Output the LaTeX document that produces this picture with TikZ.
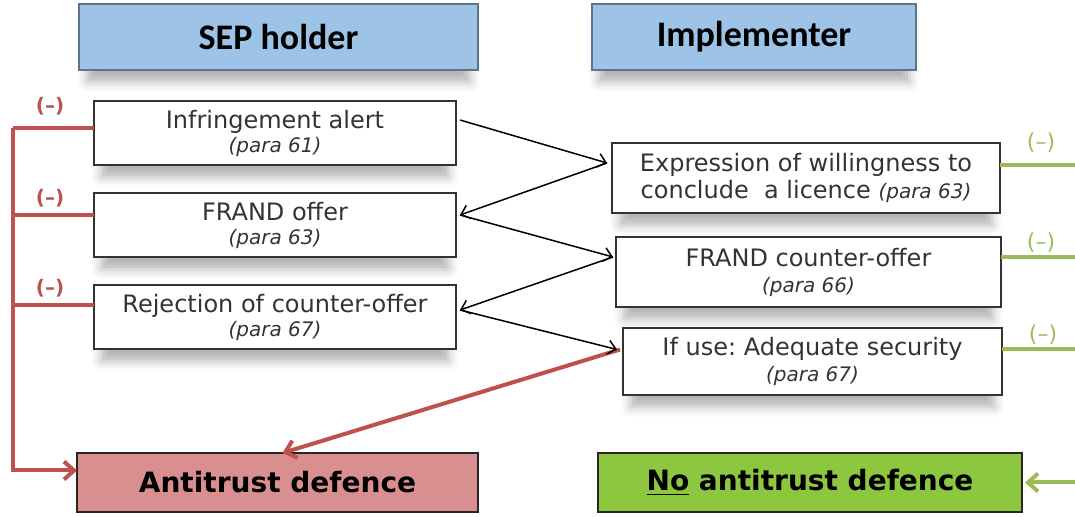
\documentclass[tikz,border=0pt]{standalone}
\usepackage{fontspec}
\setmainfont{DejaVu Sans}
\newfontfamily\headfont{Carlito}
\usetikzlibrary{shapes, arrows.meta, positioning, calc, shadows.blur}
\tikzset{every node/.style={font=\fontsize{12}{14}\selectfont}}
\frenchspacing

\definecolor{headblue}{RGB}{157,195,230}
\definecolor{headedge}{RGB}{95,115,140}
\definecolor{defred}{RGB}{217,143,143}
\definecolor{nogreen}{RGB}{141,198,63}
\definecolor{linered}{RGB}{192,80,77}
\definecolor{linegreen}{RGB}{155,187,89}

\newcommand{\paranum}[1]{{\fontsize{10}{12}\selectfont\itshape (para #1)}}

\begin{document}
\begin{tikzpicture}[x=0.5pt, y=-0.5pt, node distance=14pt]
  \tikzstyle{shade} = [blur shadow={shadow xshift=0pt, shadow yshift=-7pt, shadow scale=0.96, shadow blur radius=5pt, shadow opacity=30}]
  \tikzstyle{party} = [rectangle, shade, outer sep=0pt, minimum height=33pt, draw=headedge, line width=0.8pt, fill=headblue, font=\headfont\bfseries\fontsize{18}{20}\selectfont]
  \tikzstyle{move} = [rectangle, shade, outer sep=0pt, fill=white, draw=black!80, line width=1pt, inner sep=2pt, align=center, text=black!80]
  \tikzstyle{result} = [rectangle, outer sep=0pt, minimum height=29.5pt, draw=black!85, line width=1pt, font=\bfseries\fontsize{14}{16}\selectfont]
  \tikzstyle{arrow} = [line width=0.75pt, ->, >={Straight Barb[length=4pt, width=7pt]}]
  \tikzstyle{redline} = [line width=2pt, draw=linered]
  \tikzstyle{greenline} = [line width=2pt, draw=linegreen]
  \tikzstyle{bigtip} = [-{Straight Barb[length=5pt, width=9pt]}]
  \tikzstyle{minus} = [font=\fontsize{11}{12}\selectfont]
  \useasboundingbox (0,0) rectangle (1075,517);
  \node (sepholder) [party, minimum width=199.5pt] at (278.5,37) {SEP holder};
  \node (implementer) [party, minimum width=162pt, right=57pt of sepholder] {Implementer};
  \node (alert) [move, minimum width=181pt, minimum height=32pt, below=15.5pt of sepholder, xshift=-1.75pt] {Infringement alert\\[-2pt]\paranum{61}};
  \node (offer) [move, minimum width=181pt, minimum height=32pt, below=of alert] {FRAND offer\\[-2pt]\paranum{63}};
  \node (reject) [move, minimum width=181pt, minimum height=32pt, below=of offer] {Rejection of counter-offer\\[-2pt]\paranum{67}};
  \node (will) [move, minimum width=194pt, minimum height=35pt, below=36.5pt of implementer, xshift=26pt] {Expression of willingness to\\[-0.5pt]conclude\ \ a licence \paranum{63}};
  \node (counter) [move, minimum width=192.5pt, minimum height=35pt, below=12pt of will, xshift=1.25pt] {FRAND counter-offer\\[-1pt]\paranum{66}};
  \node (security) [move, minimum width=189.5pt, minimum height=33.5pt, below=10.5pt of counter, xshift=2pt] {If use: Adequate security\\[-1pt]\paranum{67}};
  \node (defence) [result, fill=defred, minimum width=200.5pt, below=52pt of reject, xshift=1.25pt] {Antitrust defence};
  \node (nodefence) [result, fill=nogreen, minimum width=212pt, right=60pt of defence] {\underline{No} antitrust defence};
  % (-) marks
  \node (minusA) [minus, font=\bfseries, text=linered] at (50,106) {(–)};
  \node (minusB) [minus, font=\bfseries, text=linered] at (50,198) {(–)};
  \node (minusC) [minus, font=\bfseries, text=linered] at (50,288) {(–)};
  \node (minusD) [minus, text=linegreen] at (1041,143) {(–)};
  \node (minusE) [minus, text=linegreen] at (1041,243) {(–)};
  \node (minusF) [minus, text=linegreen] at (1043,335) {(–)};
  \coordinate (trunk) at (13,128);
  \coordinate (rim) at (1075,0);
  % SEP holder side
  \draw [redline] ($(alert.west)+(0,-5)$) -- (trunk);
  \draw [redline] ($(offer.west)+(0,-10)$) -- ($(trunk |- offer.west)+(0,-10)$);
  \draw [redline] ($(reject.west)+(0,-12)$) -- ($(trunk |- reject.west)+(0,-12)$);
  \draw [redline, bigtip] (trunk) |- ($(defence.west)+(0,-12)$);
  \draw [redline, bigtip] ($(security.west)+(-3,-12)$) -- ($(defence.north)+(5,0)$);
  % implementer side
  \draw [greenline] ($(will.east)+(0,-13)$) -- ($(will.east -| rim)+(0,-13)$);
  \draw [greenline] ($(counter.east)+(0,-15)$) -- ($(counter.east -| rim)+(0,-15)$);
  \draw [greenline] ($(security.east)+(0,-12)$) -- ($(security.east -| rim)+(0,-12)$);
  \draw [greenline, bigtip, shorten >=1.5pt] (nodefence.east -| rim) -- (nodefence.east);
  % negotiation steps
  \draw [arrow] ($(alert.east)+(4,-13)$) -- ($(will.west)+(-5,-15)$);
  \draw [arrow] ($(will.west)+(-5,-15)$) -- ($(offer.east)+(4,-10)$);
  \draw [arrow] ($(offer.east)+(4,-10)$) -- ($(counter.west)+(-3,-15)$);
  \draw [arrow] ($(counter.west)+(-3,-15)$) -- ($(reject.east)+(4,-7)$);
  \draw [arrow] ($(reject.east)+(4,-7)$) -- ($(security.west)+(-6,-12)$);
\end{tikzpicture}
\end{document}
